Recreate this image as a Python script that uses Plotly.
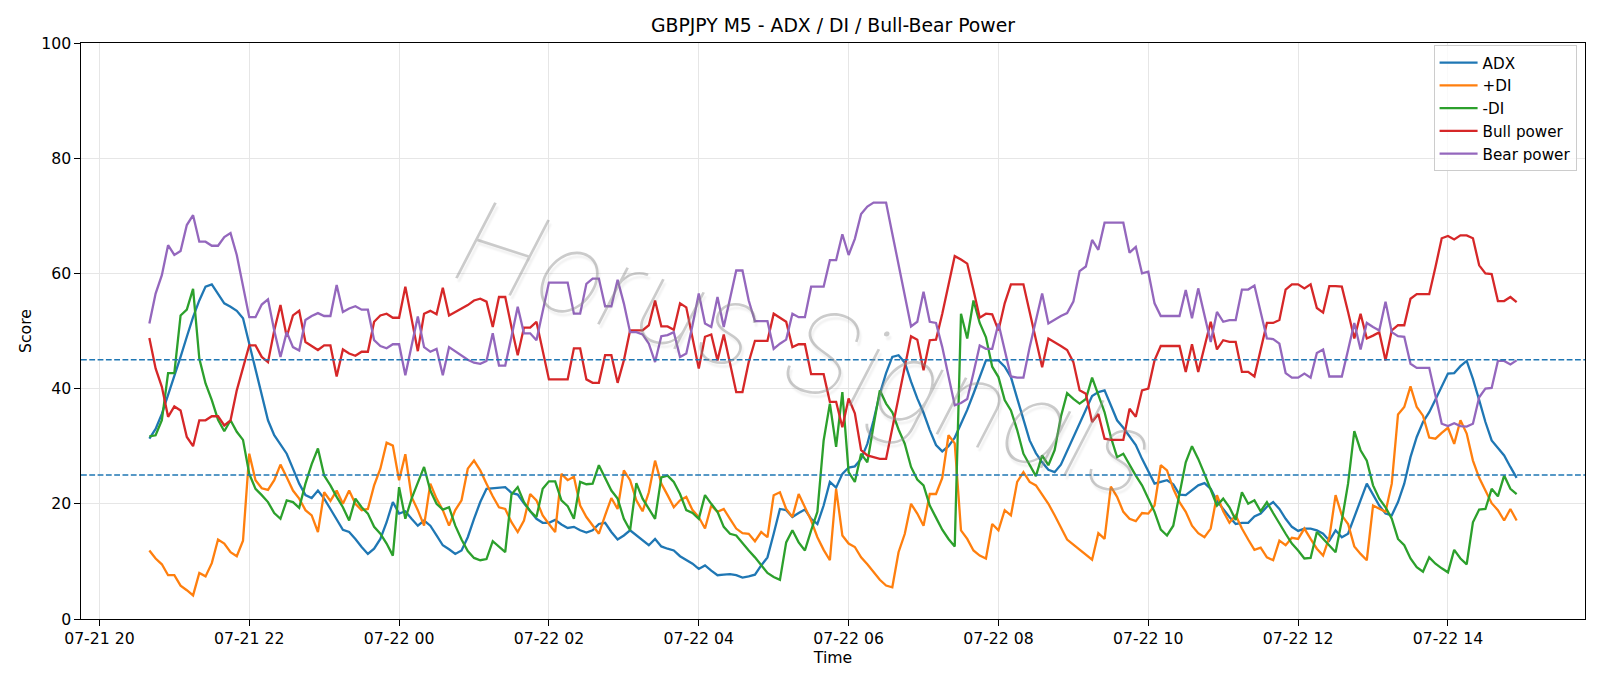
import pandas as pd
import plotly.graph_objects as go

# ---------------- data ----------------
start_time = "2025-07-21 20:40"
n_bars = 220

adx = [31.3, 33.0, 35.6, 38.8, 42.0, 45.5, 49.0, 52.4, 55.3, 57.7, 58.1, 56.5, 54.8, 54.2, 53.5, 52.2, 47.8, 43.2, 38.5, 34.5, 31.9, 30.4,
       28.7, 26.1, 23.5, 21.5, 21.0, 22.3, 20.9, 19.1, 17.4, 15.5, 15.1, 13.9, 12.5, 11.3, 12.2, 13.9, 16.8, 20.3, 18.3, 18.7, 17.4, 16.2, 17.1,
       16.2, 14.5, 12.8, 12.1, 11.3, 11.9, 14.2, 17.4, 20.3, 22.6, 22.7, 22.7, 22.9, 21.9, 21.6, 20.1, 18.7, 17.4, 16.7, 16.7, 17.2, 16.4, 15.8,
       16.0, 15.4, 15.0, 15.4, 16.5, 16.7, 15.1, 13.8, 14.5, 15.4, 14.5, 13.6, 12.8, 13.9, 12.6, 12.2, 11.9, 10.9, 10.3, 9.6, 8.7, 9.3,
       8.4, 7.6, 7.7, 7.8, 7.6, 7.2, 7.4, 7.7, 9.3, 10.7, 14.8, 19.1, 18.9, 17.7, 18.4, 19.0, 17.4, 16.5, 19.7, 23.8, 22.8, 25.2, 26.3,
       26.5, 27.8, 30.4, 34.5, 39.1, 42.7, 45.5, 45.8, 44.5, 41.2, 38.3, 35.8, 32.8, 30.2, 29.1, 30.0, 31.5, 33.9, 36.3, 39.1, 42.0, 44.9, 44.9,
       44.9, 43.8, 42.0, 38.3, 34.5, 31.0, 28.8, 27.2, 25.9, 25.5, 26.8, 29.2, 31.6, 34.0, 36.3, 38.7, 39.4, 39.7, 37.1, 34.5, 33.2, 31.6, 30.2,
       27.8, 25.5, 23.5, 23.8, 24.1, 23.4, 21.6, 21.5, 22.4, 23.2, 23.6, 22.6, 20.5, 19.0, 17.7, 16.5, 16.7, 16.7, 17.8, 18.3, 19.5, 20.3,
       19.1, 17.4, 16.0, 15.3, 15.7, 15.7, 15.4, 14.8, 13.6, 15.4, 14.2, 14.8, 17.7, 20.6, 23.5, 21.6, 19.7, 18.3, 18.0, 20.3, 23.5, 28.1, 31.6,
       34.2, 35.9, 38.1, 40.4, 42.6, 42.7, 43.9, 44.8, 41.7, 38.0, 34.2, 31.0, 29.6, 28.4, 26.4, 24.5]

plus_di = [11.9, 10.5, 9.5, 7.6, 7.6, 5.8, 5.0, 4.1, 8.0, 7.4, 9.7, 13.8, 13.1, 11.6, 10.9, 13.6, 28.7, 24.1, 22.7, 22.4, 24.1, 26.8,
           24.6, 22.3, 20.9, 18.9, 18.0, 15.1, 22.0, 20.5, 22.3, 20.0, 22.3, 20.0, 18.9, 19.1, 23.2, 26.1, 30.6, 30.1, 24.1, 28.6, 21.2, 18.9, 16.2,
           23.5, 20.9, 18.9, 16.2, 18.9, 20.6, 26.1, 27.5, 25.8, 23.5, 21.3, 19.4, 19.1, 16.8, 15.1, 17.1, 21.7, 20.6, 18.0, 16.5, 15.1, 25.2, 24.1,
           24.7, 19.7, 17.7, 16.2, 14.8, 18.0, 21.0, 19.1, 25.8, 24.1, 20.6, 18.7, 22.0, 27.5, 23.5, 21.5, 19.4, 20.6, 21.2, 18.9, 17.7, 15.7,
           19.7, 18.6, 19.1, 17.4, 15.7, 14.9, 14.8, 13.5, 15.1, 14.2, 21.5, 22.0, 19.1, 17.7, 21.7, 19.4, 17.1, 14.2, 12.0, 10.2, 22.6, 14.5, 13.1,
           12.5, 10.7, 9.5, 8.1, 6.8, 5.8, 5.5, 11.6, 14.8, 20.0, 18.3, 16.2, 21.7, 21.7, 24.5, 31.9, 30.5, 15.4, 13.9, 11.9, 11.0, 10.5, 16.5,
           15.4, 18.9, 18.0, 23.8, 25.5, 23.8, 23.2, 21.5, 20.0, 18.0, 16.0, 13.8, 12.9, 12.0, 11.2, 10.3, 14.9, 13.9, 23.0, 21.2, 18.6, 17.4, 17.0,
           18.4, 18.3, 19.7, 26.7, 25.8, 22.6, 20.3, 18.6, 16.2, 14.9, 14.2, 15.7, 21.5, 18.7, 16.7, 18.0, 15.7, 13.8, 12.0, 12.4, 10.7, 10.2,
           13.6, 12.8, 14.1, 13.9, 15.7, 13.9, 12.2, 11.0, 14.2, 21.5, 18.0, 16.5, 12.6, 11.3, 10.2, 19.7, 19.1, 18.6, 23.5, 35.5, 36.8, 40.4, 36.8,
           35.3, 31.5, 31.3, 32.3, 33.2, 30.4, 34.5, 32.2, 27.5, 24.5, 22.3, 20.1, 18.9, 17.1, 19.1, 17.1]

minus_di = [31.7, 31.9, 34.5, 42.7, 42.7, 52.7, 53.7, 57.3, 45.2, 40.9, 38.0, 34.6, 32.6, 34.5, 32.5, 31.1, 25.2, 22.6, 21.5, 20.3, 18.4, 17.4,
            20.6, 20.3, 19.3, 23.5, 26.9, 29.6, 24.9, 23.2, 21.2, 19.4, 17.1, 20.9, 19.4, 18.3, 16.0, 14.8, 13.1, 11.0, 22.9, 17.4, 20.9, 23.5, 26.4,
            22.3, 20.0, 19.0, 19.4, 16.2, 13.8, 11.8, 10.6, 10.2, 10.4, 13.5, 12.5, 11.6, 21.6, 22.9, 20.3, 18.7, 17.7, 22.6, 23.9, 23.9, 20.6, 19.6,
            17.4, 23.8, 23.4, 23.5, 26.7, 24.4, 22.3, 20.9, 17.4, 15.4, 23.6, 20.9, 19.1, 17.4, 24.6, 24.9, 23.8, 21.7, 18.9, 18.4, 17.4, 21.5,
            20.0, 18.6, 16.0, 14.8, 14.5, 13.1, 11.9, 10.7, 9.3, 8.0, 7.3, 6.8, 13.3, 15.4, 13.3, 11.9, 15.4, 18.6, 31.0, 37.4, 29.9, 39.4, 25.5,
            23.8, 28.7, 27.2, 33.6, 39.7, 37.4, 35.9, 32.9, 30.4, 26.4, 24.2, 23.2, 19.7, 17.6, 15.5, 13.9, 12.6, 53.0, 48.7, 55.3, 51.4, 48.9, 43.8,
            42.0, 38.0, 36.2, 32.8, 28.7, 26.8, 24.8, 28.4, 26.7, 29.3, 35.1, 39.2, 38.2, 37.4, 38.2, 41.9, 38.8, 35.9, 31.6, 28.1, 28.7, 26.7, 24.9,
            23.2, 20.9, 18.6, 15.5, 14.5, 16.2, 21.5, 27.2, 30.0, 27.8, 25.2, 22.6, 19.7, 20.9, 19.4, 17.2, 22.0, 20.0, 20.6, 18.7, 20.3, 18.4,
            16.5, 14.8, 13.1, 11.9, 10.5, 10.6, 15.1, 13.9, 12.8, 11.6, 17.1, 23.5, 32.6, 29.3, 27.5, 23.2, 20.9, 19.4, 17.4, 13.9, 12.8, 10.5, 9.0,
            8.2, 10.7, 9.6, 8.8, 8.1, 12.0, 10.5, 9.5, 16.8, 19.0, 19.1, 22.6, 21.3, 24.9, 22.6, 21.7]

bull_power = [48.8, 43.5, 40.3, 35.1, 36.9, 36.2, 31.6, 30.0, 34.5, 34.5, 35.2, 35.2, 33.6, 34.5, 39.7, 43.7, 47.5, 47.5, 45.5, 44.6, 50.1, 54.5,
              49.0, 52.7, 53.5, 48.1, 47.4, 46.7, 47.5, 47.5, 42.1, 46.8, 46.1, 45.7, 46.4, 46.4, 51.6, 52.7, 53.0, 52.3, 52.3, 57.7, 52.1, 46.5, 53.0,
              53.5, 52.9, 57.5, 52.7, 53.3, 53.9, 54.5, 55.3, 55.6, 55.1, 50.7, 55.9, 55.9, 50.7, 45.8, 50.6, 50.6, 51.6, 46.6, 41.6, 41.6, 41.6, 41.6,
              47.0, 47.0, 41.6, 41.0, 41.0, 45.8, 45.8, 41.0, 44.9, 50.1, 50.1, 50.1, 51.0, 55.3, 50.8, 50.8, 50.2, 54.8, 54.1, 49.0, 43.5, 49.0,
              49.4, 44.9, 49.4, 44.4, 39.4, 39.4, 44.6, 48.3, 48.3, 48.3, 53.0, 52.3, 51.6, 47.2, 47.7, 47.7, 42.5, 42.5, 42.5, 37.7, 37.7, 33.3, 38.3,
              35.7, 29.3, 28.4, 28.1, 27.8, 27.8, 33.0, 38.2, 43.7, 49.1, 48.5, 43.2, 48.4, 48.5, 53.0, 57.9, 63.0, 62.4, 61.7, 57.1, 52.3, 53.0, 52.9,
              50.1, 54.8, 58.1, 58.1, 58.1, 53.3, 48.4, 43.7, 48.7, 48.1, 47.4, 46.7, 44.6, 39.7, 39.1, 34.2, 35.6, 31.3, 31.1, 31.1, 31.1, 36.5, 35.1,
              39.7, 40.0, 44.9, 47.4, 47.4, 47.4, 47.4, 42.9, 47.7, 42.9, 47.4, 51.6, 46.8, 48.4, 48.1, 48.1, 42.9, 42.9, 42.1, 46.8, 51.4, 51.4,
              51.9, 57.2, 58.1, 58.1, 57.4, 58.1, 54.0, 53.2, 57.8, 57.8, 57.7, 53.3, 48.7, 53.0, 48.7, 49.2, 49.8, 44.9, 50.1, 51.0, 51.0, 55.6, 56.4,
              56.4, 56.4, 61.1, 66.1, 66.5, 65.9, 66.6, 66.6, 66.1, 61.4, 60.0, 59.9, 55.2, 55.2, 55.9, 55.0]

bear_power = [51.3, 56.5, 59.7, 64.9, 63.2, 63.9, 68.4, 70.1, 65.5, 65.5, 64.8, 64.8, 66.3, 67.0, 63.2, 57.6, 52.4, 52.4, 54.6, 55.5, 50.1, 45.5,
              49.8, 47.2, 46.6, 51.9, 52.6, 53.1, 52.6, 52.6, 58.0, 53.3, 53.9, 54.3, 53.7, 53.7, 48.4, 47.4, 47.0, 47.7, 47.7, 42.3, 47.4, 52.5, 47.2,
              46.4, 46.9, 42.3, 47.2, 46.5, 45.8, 45.0, 44.5, 44.3, 44.8, 49.6, 44.0, 44.0, 49.0, 54.2, 49.6, 49.6, 48.4, 53.3, 58.4, 58.4, 58.4, 58.4,
              53.0, 53.0, 58.2, 59.1, 59.1, 54.3, 54.3, 58.9, 54.8, 49.8, 49.8, 49.4, 47.8, 44.6, 49.1, 49.3, 49.8, 45.5, 46.1, 51.0, 56.5, 51.3,
              50.7, 55.9, 50.7, 55.6, 60.5, 60.5, 55.3, 51.7, 51.7, 51.7, 46.9, 47.8, 48.5, 53.0, 52.4, 52.4, 57.7, 57.7, 57.7, 62.3, 62.3, 66.8, 63.2,
              66.0, 70.3, 71.6, 72.3, 72.3, 72.3, 66.9, 61.5, 56.2, 50.8, 51.6, 56.8, 51.6, 51.4, 47.2, 42.3, 37.1, 37.5, 38.2, 42.7, 47.5, 46.9, 46.9,
              51.3, 46.7, 42.1, 41.9, 41.9, 47.2, 51.9, 56.5, 51.3, 52.0, 52.6, 53.1, 55.1, 60.4, 61.2, 65.8, 64.1, 68.8, 68.8, 68.8, 68.8, 63.6, 64.6,
              60.0, 60.3, 54.8, 52.6, 52.6, 52.6, 52.6, 57.1, 52.2, 57.4, 52.8, 48.1, 53.3, 51.6, 51.9, 51.9, 57.2, 57.2, 57.9, 53.3, 48.7, 48.6,
              47.8, 42.7, 41.9, 41.9, 42.6, 41.9, 46.2, 46.8, 42.1, 42.1, 42.1, 46.7, 51.4, 46.8, 51.4, 50.7, 50.1, 55.1, 49.8, 49.1, 49.0, 44.3, 43.6,
              43.6, 43.6, 38.8, 33.9, 33.5, 34.0, 33.5, 33.4, 33.9, 38.5, 40.0, 40.1, 44.8, 44.8, 44.2, 44.9]

series_names = ["ADX", "+DI", "-DI", "Bull power", "Bear power"]
series_colors = ["#1f77b4", "#ff7f0e", "#2ca02c", "#d62728", "#9467bd"]
thresholds = [25, 45]
y_ticks = [0, 20, 40, 60, 80, 100]
watermark_text = "Horus Signals"

times = pd.date_range(start=start_time, periods=n_bars, freq="5min")
series_values = [adx, plus_di, minus_di, bull_power, bear_power]
for s in series_values:
    assert len(s) == n_bars, len(s)

# ---------------- figure ----------------
FONT = "DejaVu Sans"
fig = go.Figure()
for name, vals, col in zip(series_names, series_values, series_colors):
    fig.add_trace(go.Scatter(x=times, y=vals, mode="lines", name=name,
                             line=dict(color=col, width=2.3)))

for t in thresholds:
    fig.add_shape(type="line", xref="paper", x0=0, x1=1, yref="y", y0=t, y1=t,
                  line=dict(color="#1f77b4", width=1.5, dash="5.8px,2.5px"))

span = times[-1] - times[0]
pad = span * 0.05
x_range = [times[0] - pad, times[-1] + pad]

fig.add_annotation(text=watermark_text, xref="paper", yref="paper", x=0.481, y=0.472,
                   showarrow=False, textangle=18,
                   font=dict(family="Inter, DejaVu Sans", size=115, color="rgba(140,140,140,0.45)",
                             style="italic", weight=100,
                             shadow="3px 3px 2px rgba(0,0,0,0.13)"))

fig.update_layout(
    width=1600, height=686,
    paper_bgcolor="white", plot_bgcolor="white",
    margin=dict(l=81, r=15, t=43, b=67),
    font=dict(family=FONT, size=15.7, color="black"),
    title=dict(text="GBPJPY M5 - ADX / DI / Bull-Bear Power", x=0.5, xref="paper",
               y=1 - 25.5 / 686, yref="container", xanchor="center", yanchor="middle",
               font=dict(family=FONT, size=18.8, color="black")),
    legend=dict(x=0.9944, xanchor="right", y=0.996, yanchor="top",
                bgcolor="rgba(255,255,255,0.8)", bordercolor="#cccccc", borderwidth=1,
                font=dict(family=FONT, size=15.2, color="black"),
                itemwidth=38),
    showlegend=True,
)
fig.update_xaxes(
    type="date", range=x_range,
    tickformat="%m-%d %H", dtick=2 * 3600 * 1000, tick0="2025-07-21 20:00",
    ticks="outside", ticklen=5.5, tickwidth=1.25, tickcolor="black",
    showline=True, linecolor="black", linewidth=1.25, mirror=True,
    showgrid=True, gridcolor="#e6e6e6", gridwidth=1, zeroline=False,
    title=dict(text="Time", standoff=4, font=dict(size=15.7)),
)
fig.update_yaxes(
    range=[0, 100], tickvals=y_ticks,
    ticks="outside", ticklen=5.5, tickwidth=1.25, tickcolor="black",
    showline=True, linecolor="black", linewidth=1.25, mirror=True,
    showgrid=True, gridcolor="#e6e6e6", gridwidth=1, zeroline=False,
    title=dict(text="Score", standoff=5, font=dict(size=15.7)),
)

fig.write_html("out.html")
